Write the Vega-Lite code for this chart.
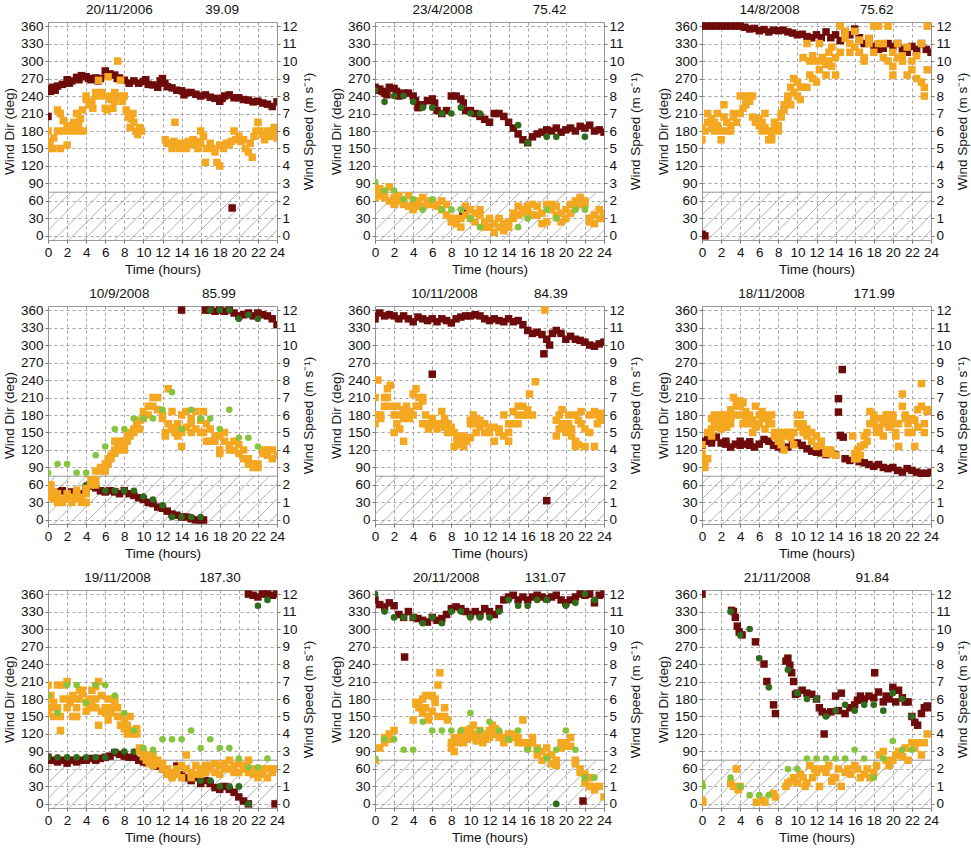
{
  "$schema": "https://vega.github.io/schema/vega-lite/v6.json",
  "background": "white",
  "padding": {"left": 1, "top": 2, "right": 1, "bottom": 2},
  "columns": 3,
  "spacing": {"row": 9, "column": 12},
  "datasets": {
    "hatch": [{"x":-6,"x2":-0.8},{"x":-4.4,"x2":0.8},{"x":-2.8,"x2":2.4},{"x":-1.2,"x2":4},{"x":0.4,"x2":5.6},{"x":2,"x2":7.2},{"x":3.6,"x2":8.8},{"x":5.2,"x2":10.4},{"x":6.8,"x2":12},{"x":8.4,"x2":13.6},{"x":10,"x2":15.2},{"x":11.6,"x2":16.8},{"x":13.2,"x2":18.4},{"x":14.8,"x2":20},{"x":16.4,"x2":21.6},{"x":18,"x2":23.2},{"x":19.6,"x2":24.8},{"x":21.2,"x2":26.4},{"x":22.8,"x2":28}],
    "d1": [{"t":0,"v":252},{"t":0.25,"v":248},{"t":0.5,"v":255},{"t":0.75,"v":250},{"t":1,"v":257},{"t":1.5,"v":260},{"t":2,"v":268},{"t":2.25,"v":262},{"t":2.5,"v":266},{"t":3,"v":272},{"t":3.25,"v":268},{"t":3.5,"v":275},{"t":4,"v":273},{"t":4.25,"v":270},{"t":4.5,"v":268},{"t":5,"v":271},{"t":5.25,"v":266},{"t":5.5,"v":270},{"t":6,"v":283},{"t":6.25,"v":276},{"t":6.5,"v":278},{"t":7,"v":276},{"t":7.25,"v":270},{"t":7.5,"v":271},{"t":8,"v":267},{"t":8.5,"v":262},{"t":9,"v":266},{"t":9.5,"v":262},{"t":10,"v":265},{"t":10.25,"v":268},{"t":10.5,"v":260},{"t":11,"v":259},{"t":11.5,"v":255},{"t":11.75,"v":266},{"t":12,"v":270},{"t":12.25,"v":262},{"t":12.5,"v":256},{"t":13,"v":254},{"t":13.5,"v":250},{"t":14,"v":249},{"t":14.25,"v":242},{"t":14.5,"v":246},{"t":15,"v":246},{"t":15.5,"v":243},{"t":16,"v":240},{"t":16.5,"v":242},{"t":17,"v":238},{"t":17.5,"v":236},{"t":18,"v":231},{"t":18.25,"v":236},{"t":18.5,"v":240},{"t":19,"v":242},{"t":19.5,"v":237},{"t":20,"v":237},{"t":20.5,"v":234},{"t":21,"v":233},{"t":21.5,"v":230},{"t":22,"v":231},{"t":22.5,"v":228},{"t":23,"v":226},{"t":23.5,"v":222},{"t":24,"v":230},{"t":0,"v":205},{"t":19.3,"v":48}],
    "s1": [{"t":0,"v":6.0},{"t":0,"v":5.0},{"t":0.2,"v":5.4},{"t":0.5,"v":5.0},{"t":0.6,"v":5.6},{"t":1,"v":7.2},{"t":1,"v":6.0},{"t":1.3,"v":7.0},{"t":1.3,"v":5.0},{"t":1.6,"v":6.6},{"t":1.7,"v":6.0},{"t":2,"v":6.3},{"t":2,"v":5.2},{"t":2.3,"v":6.3},{"t":2.4,"v":6.0},{"t":2.7,"v":6.5},{"t":2.8,"v":6.1},{"t":3,"v":7.0},{"t":3,"v":6.0},{"t":3.2,"v":6.4},{"t":3.4,"v":6.7},{"t":3.6,"v":7.2},{"t":3.7,"v":6.0},{"t":4,"v":7.8},{"t":4,"v":8.0},{"t":4.3,"v":7.5},{"t":4.6,"v":7.7},{"t":4.7,"v":7.3},{"t":5,"v":8.2},{"t":5,"v":8.0},{"t":5.3,"v":8.9},{"t":5.6,"v":8.2},{"t":5.8,"v":8.0},{"t":6,"v":7.3},{"t":6.2,"v":7.2},{"t":6.3,"v":9.1},{"t":6.5,"v":7.8},{"t":6.6,"v":8.0},{"t":6.8,"v":7.3},{"t":7,"v":7.7},{"t":7,"v":8.2},{"t":7.3,"v":10.0},{"t":7.4,"v":8.0},{"t":7.6,"v":8.9},{"t":7.8,"v":7.7},{"t":8,"v":8.0},{"t":8.2,"v":7.2},{"t":8.4,"v":6.8},{"t":8.6,"v":6.2},{"t":8.7,"v":6.7},{"t":8.9,"v":7.0},{"t":9,"v":6.5},{"t":9.2,"v":6.0},{"t":9.4,"v":5.8},{"t":9.6,"v":6.2},{"t":9.8,"v":6.0},{"t":12.3,"v":5.5},{"t":12.5,"v":5.3},{"t":13.3,"v":6.5},{"t":13,"v":5.0},{"t":13.2,"v":5.4},{"t":13.6,"v":5.2},{"t":13.8,"v":5.0},{"t":14,"v":5.3},{"t":14.2,"v":5.1},{"t":14.5,"v":5.0},{"t":14.7,"v":5.4},{"t":15,"v":5.2},{"t":15.2,"v":5.5},{"t":15.5,"v":5.4},{"t":15.7,"v":5.0},{"t":16,"v":6.0},{"t":16,"v":5.3},{"t":16.3,"v":5.7},{"t":16.5,"v":4.2},{"t":16.6,"v":5.0},{"t":17,"v":5.3},{"t":17.2,"v":5.0},{"t":17.5,"v":4.8},{"t":17.7,"v":4.2},{"t":18,"v":4.0},{"t":18,"v":5.2},{"t":18.4,"v":5.0},{"t":18.7,"v":5.3},{"t":19,"v":5.2},{"t":19.2,"v":5.4},{"t":19.5,"v":6.0},{"t":19.7,"v":5.5},{"t":20,"v":5.7},{"t":20.2,"v":5.4},{"t":20.5,"v":5.5},{"t":20.7,"v":5.0},{"t":21,"v":4.8},{"t":21.2,"v":5.3},{"t":21.4,"v":4.5},{"t":21.6,"v":5.7},{"t":21.8,"v":6.0},{"t":22,"v":6.5},{"t":22.2,"v":6.0},{"t":22.5,"v":5.8},{"t":22.7,"v":5.5},{"t":23,"v":6.0},{"t":23.2,"v":5.7},{"t":23.5,"v":5.8},{"t":23.7,"v":6.2},{"t":24,"v":6.0},{"t":24,"v":5.6}],
    "d2": [{"t":0,"v":255},{"t":0.25,"v":250},{"t":0.5,"v":252},{"t":0.75,"v":248},{"t":1,"v":245},{"t":1.25,"v":242},{"t":1.5,"v":255},{"t":2,"v":253},{"t":2.25,"v":248},{"t":2.5,"v":240},{"t":3,"v":245},{"t":3.5,"v":245},{"t":4,"v":240},{"t":4.25,"v":232},{"t":4.5,"v":220},{"t":5,"v":225},{"t":5.5,"v":232},{"t":6,"v":235},{"t":6.25,"v":228},{"t":6.5,"v":215},{"t":7,"v":210},{"t":7.5,"v":215},{"t":8,"v":240},{"t":8.5,"v":240},{"t":9,"v":235},{"t":9.25,"v":228},{"t":9.5,"v":215},{"t":10,"v":215},{"t":10.5,"v":210},{"t":11,"v":205},{"t":11.5,"v":200},{"t":12,"v":195},{"t":12.5,"v":210},{"t":13,"v":210},{"t":13.5,"v":205},{"t":14,"v":195},{"t":14.5,"v":185},{"t":15,"v":175},{"t":15.5,"v":165},{"t":16,"v":160},{"t":16.5,"v":170},{"t":17,"v":175},{"t":17.5,"v":178},{"t":18,"v":182},{"t":18.5,"v":180},{"t":19,"v":185},{"t":19.5,"v":178},{"t":20,"v":182},{"t":20.5,"v":185},{"t":21,"v":180},{"t":21.5,"v":188},{"t":22,"v":185},{"t":22.5,"v":190},{"t":23,"v":180},{"t":23.5,"v":182},{"t":24,"v":178},{"t":9.2,"v":42}],
    "c2": [{"t":0,"v":250},{"t":1,"v":230},{"t":2,"v":240},{"t":3,"v":240},{"t":4,"v":230},{"t":5,"v":220},{"t":6,"v":220},{"t":7,"v":210},{"t":8,"v":210},{"t":9,"v":220},{"t":10,"v":210},{"t":11,"v":210},{"t":15,"v":190},{"t":16,"v":160},{"t":18,"v":170},{"t":19,"v":170},{"t":22,"v":170}],
    "s2": [{"t":0,"v":2.8},{"t":0,"v":2.5},{"t":0,"v":2.2},{"t":0.5,"v":2.7},{"t":0.5,"v":2.3},{"t":1,"v":2.2},{"t":1,"v":2.5},{"t":1.5,"v":2.8},{"t":1.5,"v":2.0},{"t":2,"v":2.2},{"t":2,"v":1.8},{"t":2.5,"v":2.0},{"t":2.5,"v":2.3},{"t":3,"v":2.0},{"t":3,"v":1.8},{"t":3.5,"v":2.3},{"t":3.5,"v":1.7},{"t":4,"v":1.8},{"t":4,"v":1.5},{"t":4.5,"v":1.7},{"t":4.5,"v":2.0},{"t":5,"v":2.2},{"t":5,"v":1.7},{"t":5.5,"v":2.0},{"t":5.5,"v":1.8},{"t":6,"v":1.8},{"t":6,"v":2.0},{"t":6.5,"v":1.8},{"t":6.5,"v":1.7},{"t":7,"v":2.0},{"t":7,"v":1.5},{"t":7.5,"v":1.8},{"t":7.5,"v":1.2},{"t":8,"v":1.0},{"t":8,"v":0.8},{"t":8.5,"v":1.0},{"t":8.5,"v":0.7},{"t":9,"v":0.5},{"t":9,"v":1.0},{"t":9.5,"v":1.2},{"t":9.5,"v":1.7},{"t":10,"v":1.5},{"t":10,"v":1.0},{"t":10.5,"v":1.3},{"t":10.5,"v":0.8},{"t":11,"v":1.2},{"t":11,"v":1.5},{"t":11.5,"v":0.8},{"t":11.5,"v":0.5},{"t":12,"v":0.5},{"t":12,"v":1.0},{"t":12.5,"v":0.7},{"t":12.5,"v":0.2},{"t":13,"v":1.0},{"t":13,"v":0.5},{"t":13.5,"v":0.7},{"t":13.5,"v":0.3},{"t":14,"v":0.5},{"t":14,"v":0.8},{"t":14.5,"v":1.3},{"t":14.5,"v":1.0},{"t":15,"v":1.7},{"t":15,"v":1.2},{"t":15.5,"v":1.5},{"t":15.5,"v":1.3},{"t":16,"v":1.7},{"t":16,"v":1.3},{"t":16.5,"v":1.8},{"t":16.5,"v":1.2},{"t":17,"v":1.2},{"t":17,"v":1.7},{"t":17.5,"v":1.3},{"t":17.5,"v":0.7},{"t":18,"v":1.8},{"t":18,"v":0.8},{"t":18.5,"v":1.5},{"t":18.5,"v":1.8},{"t":19,"v":1.2},{"t":19,"v":1.7},{"t":19.5,"v":0.8},{"t":19.5,"v":1.3},{"t":20,"v":1.0},{"t":20,"v":1.5},{"t":20.5,"v":1.8},{"t":20.5,"v":1.3},{"t":21,"v":2.0},{"t":21,"v":1.7},{"t":21.5,"v":2.2},{"t":21.5,"v":1.8},{"t":22,"v":2.0},{"t":22,"v":1.8},{"t":22.5,"v":1.0},{"t":22.5,"v":0.8},{"t":23,"v":1.2},{"t":23,"v":0.7},{"t":23.5,"v":1.5},{"t":23.5,"v":1.0},{"t":24,"v":1.3},{"t":24,"v":1.0}],
    "g2": [{"t":0,"v":3.1},{"t":1,"v":2.6},{"t":2,"v":2.6},{"t":3,"v":2.1},{"t":4,"v":2.1},{"t":5,"v":1.5},{"t":6,"v":2.1},{"t":7,"v":1.5},{"t":8,"v":1.5},{"t":9,"v":1.5},{"t":10,"v":1.0},{"t":11,"v":0.5},{"t":15,"v":0.5},{"t":16,"v":1.0},{"t":18,"v":1.5},{"t":19,"v":1.0},{"t":21,"v":1.5},{"t":22,"v":1.5}],
    "d3": [{"t":0,"v":360},{"t":0.5,"v":360},{"t":1,"v":360},{"t":1.5,"v":360},{"t":2,"v":360},{"t":2.5,"v":360},{"t":3,"v":360},{"t":3.5,"v":360},{"t":4,"v":360},{"t":4.5,"v":358},{"t":5,"v":355},{"t":5.5,"v":356},{"t":6,"v":352},{"t":6.5,"v":354},{"t":7,"v":350},{"t":7.5,"v":353},{"t":8,"v":352},{"t":8.5,"v":353},{"t":9,"v":350},{"t":9.5,"v":348},{"t":10,"v":345},{"t":10.5,"v":346},{"t":11,"v":342},{"t":11.5,"v":340},{"t":12,"v":345},{"t":12.5,"v":340},{"t":13,"v":350},{"t":13.5,"v":340},{"t":14,"v":345},{"t":14.5,"v":335},{"t":15,"v":350},{"t":15.5,"v":345},{"t":16,"v":355},{"t":16.5,"v":340},{"t":17,"v":330},{"t":17.5,"v":338},{"t":18,"v":325},{"t":18.5,"v":320},{"t":19,"v":322},{"t":19.5,"v":330},{"t":20,"v":325},{"t":20.5,"v":330},{"t":21,"v":320},{"t":21.5,"v":315},{"t":22,"v":325},{"t":22.5,"v":320},{"t":23,"v":330},{"t":23.5,"v":320},{"t":24,"v":315},{"t":0,"v":3},{"t":0.3,"v":0}],
    "s3": [{"t":0,"v":5.5},{"t":0,"v":6.2},{"t":0.3,"v":6.0},{"t":0.6,"v":7.0},{"t":0.6,"v":6.5},{"t":1,"v":6.7},{"t":1,"v":6.2},{"t":1.3,"v":6.5},{"t":1.3,"v":6.0},{"t":1.6,"v":7.0},{"t":1.6,"v":6.3},{"t":2,"v":6.0},{"t":2,"v":5.5},{"t":2.3,"v":6.8},{"t":2.3,"v":7.5},{"t":2.6,"v":6.5},{"t":2.6,"v":6.0},{"t":3,"v":6.3},{"t":3,"v":6.0},{"t":3.3,"v":6.8},{"t":3.3,"v":7.0},{"t":3.6,"v":6.5},{"t":4,"v":8.0},{"t":4,"v":7.0},{"t":4.3,"v":8.0},{"t":4.3,"v":7.3},{"t":4.6,"v":7.5},{"t":4.6,"v":7.8},{"t":5,"v":7.7},{"t":5,"v":8.0},{"t":5.3,"v":8.0},{"t":5.3,"v":6.8},{"t":5.6,"v":6.5},{"t":6,"v":6.7},{"t":6,"v":6.3},{"t":6.3,"v":6.0},{"t":6.3,"v":6.5},{"t":6.6,"v":6.2},{"t":6.6,"v":7.0},{"t":7,"v":5.5},{"t":7,"v":6.0},{"t":7.3,"v":5.5},{"t":7.3,"v":5.8},{"t":7.6,"v":6.5},{"t":7.6,"v":6.2},{"t":8,"v":6.0},{"t":8,"v":6.3},{"t":8.3,"v":7.0},{"t":8.3,"v":6.8},{"t":8.6,"v":7.2},{"t":8.6,"v":7.5},{"t":9,"v":7.8},{"t":9,"v":8.0},{"t":9.3,"v":7.5},{"t":9.3,"v":8.5},{"t":9.6,"v":8.2},{"t":9.6,"v":9.0},{"t":10,"v":8.8},{"t":10,"v":8.0},{"t":10.3,"v":8.5},{"t":10.3,"v":7.8},{"t":10.6,"v":10.2},{"t":10.6,"v":8.5},{"t":11,"v":11.0},{"t":11,"v":8.5},{"t":11.3,"v":9.2},{"t":11.3,"v":10.0},{"t":11.6,"v":10.3},{"t":11.6,"v":9.0},{"t":12,"v":10.0},{"t":12,"v":8.8},{"t":12.3,"v":11.0},{"t":12.3,"v":9.5},{"t":12.6,"v":10.2},{"t":12.6,"v":10.0},{"t":13,"v":9.8},{"t":13,"v":9.2},{"t":13.3,"v":10.5},{"t":13.3,"v":10.0},{"t":13.6,"v":10.8},{"t":13.6,"v":9.7},{"t":14,"v":9.2},{"t":14,"v":10.2},{"t":14.5,"v":12.0},{"t":14.5,"v":10.5},{"t":15,"v":11.3},{"t":15,"v":11.7},{"t":15.5,"v":11.0},{"t":15.5,"v":10.5},{"t":16,"v":11.7},{"t":16,"v":10.8},{"t":16.5,"v":10.5},{"t":16.5,"v":11.2},{"t":17,"v":10.0},{"t":17,"v":10.2},{"t":17.5,"v":11.0},{"t":17.5,"v":11.3},{"t":18,"v":12.0},{"t":18,"v":10.5},{"t":18.5,"v":12.0},{"t":18.5,"v":11.0},{"t":19,"v":10.2},{"t":19,"v":11.0},{"t":19.5,"v":10.0},{"t":19.5,"v":12.0},{"t":20,"v":9.2},{"t":20,"v":9.7},{"t":20,"v":10.5},{"t":20.5,"v":10.2},{"t":20.5,"v":11.0},{"t":21,"v":10.0},{"t":21,"v":10.3},{"t":21.5,"v":9.2},{"t":21.5,"v":10.8},{"t":22,"v":9.5},{"t":22,"v":10.0},{"t":22.5,"v":10.3},{"t":22.5,"v":9.0},{"t":23,"v":8.8},{"t":23,"v":11.0},{"t":23.3,"v":8.0},{"t":23.3,"v":8.5},{"t":23.6,"v":12.0},{"t":23.6,"v":9.5}],
    "d4": [{"t":0,"v":45},{"t":0.5,"v":45},{"t":1,"v":48},{"t":1.5,"v":50},{"t":2,"v":45},{"t":2.5,"v":48},{"t":3,"v":42},{"t":3.5,"v":45},{"t":4,"v":55},{"t":4.5,"v":58},{"t":5,"v":55},{"t":5.5,"v":50},{"t":6,"v":48},{"t":6.5,"v":50},{"t":7,"v":48},{"t":7.5,"v":45},{"t":8,"v":50},{"t":8.5,"v":45},{"t":9,"v":42},{"t":9.5,"v":38},{"t":10,"v":35},{"t":10.5,"v":30},{"t":11,"v":28},{"t":11.5,"v":22},{"t":12,"v":20},{"t":12.5,"v":15},{"t":13,"v":10},{"t":13.5,"v":8},{"t":14,"v":5},{"t":14.5,"v":5},{"t":15,"v":2},{"t":15.5,"v":0},{"t":16,"v":0},{"t":16.3,"v":0},{"t":14,"v":360},{"t":16.5,"v":360},{"t":17,"v":360},{"t":17.5,"v":358},{"t":18,"v":360},{"t":18.5,"v":358},{"t":19,"v":360},{"t":19.5,"v":355},{"t":20,"v":350},{"t":20.5,"v":352},{"t":21,"v":355},{"t":21.5,"v":350},{"t":22,"v":355},{"t":22.5,"v":352},{"t":23,"v":350},{"t":23.5,"v":345},{"t":24,"v":335}],
    "c4": [{"t":0,"v":40},{"t":4,"v":60},{"t":6,"v":50},{"t":7,"v":50},{"t":8,"v":50},{"t":9,"v":50},{"t":10,"v":40},{"t":11,"v":35},{"t":12,"v":25},{"t":13,"v":5},{"t":14,"v":5},{"t":15,"v":5},{"t":16,"v":5},{"t":17,"v":360},{"t":18,"v":360},{"t":19,"v":360},{"t":20,"v":345},{"t":21,"v":352},{"t":22,"v":345}],
    "s4": [{"t":0,"v":1.8},{"t":0,"v":2.0},{"t":0,"v":1.5},{"t":0.3,"v":1.3},{"t":0.3,"v":2.0},{"t":0.6,"v":1.2},{"t":0.6,"v":1.6},{"t":1,"v":1.2},{"t":1,"v":1.0},{"t":1,"v":1.5},{"t":1.5,"v":1.2},{"t":1.5,"v":1.0},{"t":2,"v":1.2},{"t":2,"v":1.5},{"t":2.5,"v":1.0},{"t":2.5,"v":1.3},{"t":3,"v":1.2},{"t":3,"v":1.5},{"t":3,"v":1.7},{"t":3.5,"v":1.3},{"t":3.5,"v":1.0},{"t":4,"v":1.5},{"t":4,"v":1.8},{"t":4,"v":1.0},{"t":4.5,"v":2.0},{"t":4.5,"v":2.3},{"t":5,"v":2.8},{"t":5,"v":2.3},{"t":5,"v":2.0},{"t":5.5,"v":2.8},{"t":5.5,"v":3.0},{"t":6,"v":3.2},{"t":6,"v":3.0},{"t":6,"v":2.8},{"t":6.3,"v":3.5},{"t":6.3,"v":3.2},{"t":6.6,"v":3.7},{"t":6.6,"v":3.5},{"t":7,"v":4.5},{"t":7,"v":4.0},{"t":7,"v":3.8},{"t":7.3,"v":4.0},{"t":7.3,"v":4.3},{"t":7.6,"v":4.5},{"t":7.6,"v":4.2},{"t":8,"v":4.3},{"t":8,"v":4.5},{"t":8,"v":4.0},{"t":8.3,"v":4.8},{"t":8.3,"v":4.5},{"t":8.6,"v":5.0},{"t":8.6,"v":4.8},{"t":9,"v":5.2},{"t":9,"v":5.0},{"t":9.3,"v":5.3},{"t":9.3,"v":5.5},{"t":9.6,"v":5.7},{"t":9.6,"v":5.2},{"t":10,"v":6.2},{"t":10,"v":5.8},{"t":10.5,"v":6.0},{"t":10.5,"v":6.5},{"t":11,"v":6.5},{"t":11,"v":7.0},{"t":11.5,"v":7.0},{"t":11.5,"v":6.3},{"t":12,"v":6.0},{"t":12,"v":5.8},{"t":12.3,"v":5.0},{"t":12.3,"v":4.8},{"t":12.6,"v":7.5},{"t":12.6,"v":5.5},{"t":13,"v":6.2},{"t":13,"v":5.2},{"t":13.3,"v":5.0},{"t":13.3,"v":5.3},{"t":13.6,"v":5.5},{"t":13.6,"v":4.8},{"t":14,"v":4.2},{"t":14,"v":6.0},{"t":14,"v":5.0},{"t":14.5,"v":6.2},{"t":14.5,"v":5.3},{"t":15,"v":5.8},{"t":15,"v":5.0},{"t":15,"v":5.5},{"t":15.5,"v":5.2},{"t":15.5,"v":6.2},{"t":16,"v":5.7},{"t":16,"v":5.0},{"t":16.3,"v":6.2},{"t":16.3,"v":5.0},{"t":16.6,"v":5.5},{"t":16.6,"v":4.5},{"t":17,"v":4.5},{"t":17,"v":5.2},{"t":17.5,"v":4.8},{"t":17.5,"v":4.5},{"t":18,"v":4.0},{"t":18,"v":3.8},{"t":18,"v":4.8},{"t":18.5,"v":5.0},{"t":18.5,"v":4.5},{"t":19,"v":4.3},{"t":19,"v":4.0},{"t":19.5,"v":4.5},{"t":19.5,"v":4.0},{"t":20,"v":4.3},{"t":20,"v":3.8},{"t":20.5,"v":3.5},{"t":20.5,"v":4.0},{"t":21,"v":3.2},{"t":21,"v":3.5},{"t":21.5,"v":3.0},{"t":21.5,"v":3.2},{"t":22,"v":3.2},{"t":22,"v":3.0},{"t":22.5,"v":3.8},{"t":22.5,"v":4.0},{"t":23,"v":4.0},{"t":23,"v":3.7},{"t":23.5,"v":4.0},{"t":23.5,"v":3.5},{"t":24,"v":3.7}],
    "g4": [{"t":0,"v":2.7},{"t":1,"v":3.2},{"t":2,"v":3.2},{"t":3,"v":2.7},{"t":4,"v":2.7},{"t":5,"v":3.7},{"t":6,"v":4.2},{"t":7,"v":5.2},{"t":8,"v":5.2},{"t":9,"v":5.8},{"t":10,"v":5.8},{"t":11,"v":5.8},{"t":12,"v":6.3},{"t":13,"v":7.3},{"t":14,"v":5.2},{"t":15,"v":6.3},{"t":16,"v":5.8},{"t":17,"v":5.8},{"t":18,"v":5.2},{"t":19,"v":6.3},{"t":20,"v":4.7},{"t":21,"v":4.7},{"t":22,"v":4.2}],
    "d5": [{"t":0,"v":350},{"t":0,"v":345},{"t":0.5,"v":355},{"t":1,"v":350},{"t":1.5,"v":352},{"t":2,"v":350},{"t":2.5,"v":345},{"t":3,"v":350},{"t":3.5,"v":345},{"t":4,"v":340},{"t":4.5,"v":348},{"t":5,"v":345},{"t":5.5,"v":342},{"t":6,"v":345},{"t":6.5,"v":340},{"t":7,"v":345},{"t":7.5,"v":342},{"t":8,"v":338},{"t":8.5,"v":345},{"t":9,"v":348},{"t":9.5,"v":350},{"t":10,"v":350},{"t":10.5,"v":352},{"t":11,"v":350},{"t":11.5,"v":345},{"t":12,"v":342},{"t":12.5,"v":345},{"t":13,"v":342},{"t":13.5,"v":340},{"t":14,"v":345},{"t":14.5,"v":340},{"t":15,"v":342},{"t":15.5,"v":335},{"t":16,"v":325},{"t":16.5,"v":320},{"t":17,"v":322},{"t":17.5,"v":318},{"t":18,"v":310},{"t":18.3,"v":300},{"t":18.6,"v":320},{"t":19,"v":325},{"t":19.5,"v":320},{"t":20,"v":310},{"t":20.5,"v":315},{"t":21,"v":310},{"t":21.5,"v":308},{"t":22,"v":305},{"t":22.5,"v":300},{"t":23,"v":298},{"t":23.5,"v":302},{"t":24,"v":305},{"t":6,"v":250},{"t":17.7,"v":285},{"t":18,"v":33}],
    "s5": [{"t":0,"v":7.0},{"t":0,"v":6.0},{"t":0,"v":5.5},{"t":0.3,"v":8.0},{"t":0.6,"v":5.8},{"t":0.6,"v":6.0},{"t":1,"v":7.0},{"t":1,"v":6.5},{"t":1.3,"v":7.5},{"t":1.3,"v":7.0},{"t":1.6,"v":7.7},{"t":1.6,"v":6.5},{"t":2,"v":5.0},{"t":2,"v":6.0},{"t":2.3,"v":6.5},{"t":2.3,"v":5.5},{"t":2.6,"v":5.2},{"t":2.6,"v":6.0},{"t":3,"v":4.5},{"t":3,"v":6.3},{"t":3,"v":5.8},{"t":3.3,"v":6.5},{"t":3.3,"v":6.0},{"t":3.6,"v":6.2},{"t":3.6,"v":5.8},{"t":4,"v":6.0},{"t":4,"v":7.2},{"t":4.3,"v":6.5},{"t":4.3,"v":7.5},{"t":4.6,"v":7.0},{"t":4.6,"v":6.5},{"t":5,"v":5.5},{"t":5,"v":6.8},{"t":5,"v":7.0},{"t":5.3,"v":6.0},{"t":5.3,"v":5.5},{"t":5.6,"v":5.2},{"t":5.6,"v":5.5},{"t":6,"v":5.8},{"t":6,"v":5.5},{"t":6.5,"v":5.2},{"t":6.5,"v":5.5},{"t":7,"v":5.5},{"t":7,"v":6.2},{"t":7.3,"v":5.8},{"t":7.3,"v":5.3},{"t":7.6,"v":5.0},{"t":7.6,"v":5.5},{"t":8,"v":5.3},{"t":8,"v":5.0},{"t":8.3,"v":4.2},{"t":8.3,"v":5.0},{"t":8.6,"v":4.8},{"t":8.6,"v":4.5},{"t":9,"v":4.3},{"t":9,"v":4.5},{"t":9.3,"v":4.8},{"t":9.3,"v":4.2},{"t":9.6,"v":4.5},{"t":10,"v":4.7},{"t":10,"v":5.5},{"t":10,"v":5.7},{"t":10.3,"v":6.0},{"t":10.3,"v":5.5},{"t":10.6,"v":5.8},{"t":10.6,"v":5.0},{"t":11,"v":5.3},{"t":11,"v":5.7},{"t":11.5,"v":5.5},{"t":11.5,"v":5.0},{"t":12,"v":5.3},{"t":12,"v":5.0},{"t":12.5,"v":4.5},{"t":12.5,"v":5.3},{"t":13,"v":5.0},{"t":13,"v":5.2},{"t":13.5,"v":4.8},{"t":13.5,"v":6.0},{"t":14,"v":4.5},{"t":14,"v":5.5},{"t":14,"v":5.0},{"t":14.5,"v":6.2},{"t":14.5,"v":5.5},{"t":15,"v":6.0},{"t":15,"v":5.5},{"t":15,"v":6.5},{"t":15.5,"v":6.5},{"t":15.5,"v":6.0},{"t":16,"v":6.3},{"t":16,"v":6.0},{"t":16.2,"v":7.2},{"t":16.5,"v":6.0},{"t":16.8,"v":7.9},{"t":17.8,"v":12.0},{"t":19,"v":4.8},{"t":19,"v":5.7},{"t":19.3,"v":6.0},{"t":19.3,"v":5.2},{"t":19.6,"v":6.3},{"t":19.6,"v":5.5},{"t":20,"v":5.0},{"t":20,"v":5.3},{"t":20.3,"v":6.0},{"t":20.3,"v":5.5},{"t":20.6,"v":5.2},{"t":20.6,"v":4.8},{"t":21,"v":4.2},{"t":21,"v":4.5},{"t":21,"v":6.0},{"t":21.3,"v":5.7},{"t":21.3,"v":4.3},{"t":21.6,"v":5.5},{"t":21.6,"v":6.2},{"t":22,"v":4.2},{"t":22,"v":5.2},{"t":22.5,"v":5.0},{"t":22.5,"v":6.0},{"t":23,"v":4.2},{"t":23,"v":6.2},{"t":23.3,"v":5.5},{"t":23.3,"v":6.0},{"t":23.6,"v":5.7},{"t":23.6,"v":6.1},{"t":24,"v":5.8}],
    "d6": [{"t":0,"v":128},{"t":0.3,"v":135},{"t":0.6,"v":140},{"t":1,"v":138},{"t":1,"v":132},{"t":1.5,"v":142},{"t":2,"v":132},{"t":2.5,"v":130},{"t":2.5,"v":135},{"t":3,"v":125},{"t":3.5,"v":130},{"t":4,"v":128},{"t":4,"v":135},{"t":4.5,"v":130},{"t":5,"v":128},{"t":5,"v":134},{"t":5.5,"v":125},{"t":6,"v":130},{"t":6.5,"v":138},{"t":7,"v":135},{"t":7.5,"v":128},{"t":8,"v":125},{"t":8,"v":130},{"t":8.5,"v":122},{"t":9,"v":125},{"t":9.5,"v":130},{"t":10,"v":132},{"t":10.5,"v":128},{"t":11,"v":122},{"t":11.5,"v":118},{"t":12,"v":116},{"t":12,"v":120},{"t":12.5,"v":115},{"t":13,"v":112},{"t":13.5,"v":115},{"t":14,"v":112},{"t":14.3,"v":208},{"t":14.3,"v":185},{"t":14.5,"v":145},{"t":14.7,"v":258},{"t":14.8,"v":142},{"t":15,"v":105},{"t":15.5,"v":102},{"t":16,"v":105},{"t":16.5,"v":100},{"t":17,"v":98},{"t":17.5,"v":95},{"t":18,"v":92},{"t":18.5,"v":95},{"t":19,"v":90},{"t":19.5,"v":88},{"t":20,"v":90},{"t":20.5,"v":85},{"t":21,"v":82},{"t":21.5,"v":88},{"t":22,"v":85},{"t":22.5,"v":82},{"t":23,"v":80},{"t":23.5,"v":80},{"t":24,"v":82}],
    "s6": [{"t":0,"v":4.3},{"t":0,"v":3.5},{"t":0,"v":3.8},{"t":0.3,"v":3.0},{"t":0.3,"v":3.3},{"t":0.6,"v":3.5},{"t":0.6,"v":5.0},{"t":1,"v":5.8},{"t":1,"v":4.8},{"t":1,"v":5.2},{"t":1.3,"v":6.0},{"t":1.3,"v":5.5},{"t":1.6,"v":5.3},{"t":1.6,"v":5.8},{"t":2,"v":5.2},{"t":2,"v":5.5},{"t":2,"v":6.0},{"t":2.3,"v":5.5},{"t":2.3,"v":5.8},{"t":2.6,"v":5.3},{"t":2.6,"v":6.0},{"t":3,"v":5.8},{"t":3,"v":6.3},{"t":3,"v":5.5},{"t":3.3,"v":7.0},{"t":3.3,"v":6.0},{"t":3.6,"v":6.5},{"t":3.6,"v":6.8},{"t":4,"v":6.0},{"t":4,"v":6.5},{"t":4,"v":6.8},{"t":4.3,"v":5.5},{"t":4.3,"v":6.7},{"t":4.6,"v":6.2},{"t":4.6,"v":5.8},{"t":5,"v":5.5},{"t":5,"v":5.8},{"t":5,"v":6.0},{"t":5.3,"v":5.0},{"t":5.3,"v":5.7},{"t":5.6,"v":6.5},{"t":5.6,"v":5.3},{"t":6,"v":6.0},{"t":6,"v":5.5},{"t":6.3,"v":5.8},{"t":6.3,"v":6.2},{"t":6.6,"v":5.2},{"t":6.6,"v":6.0},{"t":7,"v":5.5},{"t":7,"v":5.8},{"t":7.3,"v":6.0},{"t":7.3,"v":5.5},{"t":7.6,"v":5.0},{"t":7.6,"v":4.8},{"t":8,"v":4.5},{"t":8,"v":5.0},{"t":8.3,"v":4.3},{"t":8.3,"v":4.7},{"t":8.6,"v":4.0},{"t":8.6,"v":5.0},{"t":9,"v":4.8},{"t":9,"v":5.0},{"t":9.3,"v":5.0},{"t":9.3,"v":4.7},{"t":9.6,"v":4.3},{"t":9.6,"v":5.0},{"t":10,"v":5.5},{"t":10,"v":6.0},{"t":10.3,"v":6.0},{"t":10.3,"v":5.3},{"t":10.6,"v":5.0},{"t":10.6,"v":5.5},{"t":11,"v":5.2},{"t":11,"v":4.8},{"t":11.5,"v":5.0},{"t":11.5,"v":4.5},{"t":12,"v":4.2},{"t":12,"v":4.8},{"t":12.5,"v":4.5},{"t":12.5,"v":4.3},{"t":13,"v":4.0},{"t":13,"v":3.8},{"t":13.5,"v":3.8},{"t":13.5,"v":4.0},{"t":14,"v":3.7},{"t":15.8,"v":4.8},{"t":16,"v":3.5},{"t":16,"v":3.8},{"t":16.3,"v":3.5},{"t":16.3,"v":4.0},{"t":16.6,"v":3.7},{"t":16.6,"v":4.2},{"t":17,"v":4.3},{"t":17,"v":4.8},{"t":17.3,"v":5.0},{"t":17.3,"v":4.5},{"t":17.6,"v":6.2},{"t":17.6,"v":5.5},{"t":18,"v":5.5},{"t":18,"v":5.8},{"t":18,"v":6.0},{"t":18.3,"v":5.0},{"t":18.3,"v":5.3},{"t":18.6,"v":5.8},{"t":18.6,"v":5.2},{"t":19,"v":4.8},{"t":19,"v":5.5},{"t":19.3,"v":5.7},{"t":19.3,"v":6.0},{"t":19.6,"v":5.3},{"t":19.6,"v":6.0},{"t":20,"v":5.8},{"t":20,"v":6.0},{"t":20,"v":5.5},{"t":20.3,"v":4.8},{"t":20.3,"v":5.0},{"t":20.6,"v":4.2},{"t":20.6,"v":5.5},{"t":21,"v":7.2},{"t":21,"v":6.5},{"t":21.3,"v":5.8},{"t":21.3,"v":6.0},{"t":21.6,"v":5.5},{"t":21.6,"v":5.0},{"t":22,"v":5.0},{"t":22,"v":5.8},{"t":22.3,"v":4.2},{"t":22.3,"v":5.7},{"t":22.6,"v":5.3},{"t":22.6,"v":6.3},{"t":23,"v":6.5},{"t":23,"v":7.8},{"t":23.3,"v":5.5},{"t":23.3,"v":5.0},{"t":23.6,"v":6.3},{"t":23.6,"v":6.2}],
    "d7": [{"t":0,"v":80},{"t":0,"v":75},{"t":0.5,"v":75},{"t":1,"v":72},{"t":1.5,"v":75},{"t":2,"v":70},{"t":2.5,"v":75},{"t":3,"v":72},{"t":3.5,"v":75},{"t":4,"v":75},{"t":4.5,"v":78},{"t":5,"v":75},{"t":5.5,"v":78},{"t":6,"v":80},{"t":6.5,"v":82},{"t":7,"v":88},{"t":7.5,"v":85},{"t":8,"v":82},{"t":8.5,"v":80},{"t":9,"v":80},{"t":9.5,"v":75},{"t":10,"v":72},{"t":10.5,"v":70},{"t":11,"v":68},{"t":11.5,"v":65},{"t":12,"v":60},{"t":12.5,"v":55},{"t":13,"v":50},{"t":13.5,"v":65},{"t":14,"v":50},{"t":14.5,"v":45},{"t":15,"v":40},{"t":15.5,"v":45},{"t":16,"v":35},{"t":16.5,"v":40},{"t":17,"v":35},{"t":17.5,"v":28},{"t":18,"v":25},{"t":18.5,"v":30},{"t":19,"v":25},{"t":19.5,"v":20},{"t":20,"v":12},{"t":20.5,"v":5},{"t":21,"v":0},{"t":21,"v":360},{"t":21.5,"v":358},{"t":22,"v":355},{"t":22.5,"v":360},{"t":23,"v":360},{"t":23.5,"v":358},{"t":24,"v":360},{"t":23.8,"v":0}],
    "c7": [{"t":0,"v":80},{"t":1,"v":80},{"t":2,"v":80},{"t":3,"v":80},{"t":4,"v":80},{"t":5,"v":80},{"t":6,"v":80},{"t":7,"v":90},{"t":8,"v":90},{"t":9,"v":90},{"t":14,"v":65},{"t":16,"v":40},{"t":17,"v":40},{"t":18,"v":30},{"t":19,"v":30},{"t":20,"v":30},{"t":21,"v":0},{"t":22,"v":340},{"t":23,"v":350}],
    "s7": [{"t":0,"v":6.8},{"t":0,"v":6.0},{"t":0,"v":5.2},{"t":0.3,"v":6.2},{"t":0.3,"v":5.5},{"t":0.6,"v":5.8},{"t":0.6,"v":5.0},{"t":1,"v":6.8},{"t":1,"v":5.5},{"t":1.3,"v":4.2},{"t":1.3,"v":5.0},{"t":1.6,"v":6.8},{"t":1.6,"v":6.0},{"t":2,"v":7.0},{"t":2,"v":5.5},{"t":2.3,"v":6.0},{"t":2.3,"v":5.8},{"t":2.6,"v":5.0},{"t":2.6,"v":6.2},{"t":3,"v":6.0},{"t":3,"v":5.0},{"t":3,"v":5.5},{"t":3.3,"v":6.5},{"t":3.3,"v":6.0},{"t":3.6,"v":6.5},{"t":3.6,"v":6.3},{"t":4,"v":5.3},{"t":4,"v":5.8},{"t":4.3,"v":5.5},{"t":4.3,"v":6.0},{"t":4.6,"v":6.5},{"t":4.6,"v":5.8},{"t":5,"v":6.0},{"t":5,"v":5.5},{"t":5,"v":6.7},{"t":5.3,"v":7.0},{"t":5.3,"v":4.5},{"t":5.6,"v":6.2},{"t":5.6,"v":5.3},{"t":6,"v":5.2},{"t":6,"v":5.5},{"t":6.3,"v":6.0},{"t":6.3,"v":4.8},{"t":6.6,"v":5.5},{"t":6.6,"v":5.2},{"t":7,"v":5.7},{"t":7,"v":6.0},{"t":7.3,"v":5.0},{"t":7.3,"v":5.5},{"t":7.6,"v":4.5},{"t":7.6,"v":5.0},{"t":8,"v":4.3},{"t":8,"v":4.8},{"t":8.3,"v":4.0},{"t":8.3,"v":4.5},{"t":8.6,"v":5.0},{"t":8.6,"v":4.2},{"t":9,"v":4.0},{"t":9,"v":4.2},{"t":9.3,"v":4.0},{"t":9.3,"v":4.3},{"t":9.6,"v":3.2},{"t":9.6,"v":3.0},{"t":10,"v":2.7},{"t":10,"v":3.0},{"t":10.3,"v":2.5},{"t":10.3,"v":2.8},{"t":10.6,"v":2.7},{"t":10.6,"v":2.3},{"t":11,"v":2.5},{"t":11,"v":2.2},{"t":11,"v":2.8},{"t":11.5,"v":2.3},{"t":11.5,"v":2.5},{"t":12,"v":2.0},{"t":12,"v":2.3},{"t":12.5,"v":1.7},{"t":12.5,"v":2.0},{"t":13,"v":1.8},{"t":13,"v":1.5},{"t":13.5,"v":2.0},{"t":13.5,"v":1.7},{"t":14,"v":2.2},{"t":14,"v":1.5},{"t":14.5,"v":2.8},{"t":14.5,"v":2.0},{"t":15,"v":1.8},{"t":15,"v":1.5},{"t":15.5,"v":2.2},{"t":15.5,"v":1.7},{"t":16,"v":1.7},{"t":16,"v":2.0},{"t":16.5,"v":2.2},{"t":16.5,"v":1.8},{"t":17,"v":2.0},{"t":17,"v":2.2},{"t":17.5,"v":1.8},{"t":17.5,"v":2.3},{"t":18,"v":2.2},{"t":18,"v":1.7},{"t":18.5,"v":2.0},{"t":18.5,"v":2.3},{"t":19,"v":2.5},{"t":19,"v":2.0},{"t":19.5,"v":2.2},{"t":19.5,"v":1.8},{"t":20,"v":1.8},{"t":20,"v":2.3},{"t":20.5,"v":2.0},{"t":20.5,"v":2.2},{"t":21,"v":2.5},{"t":21,"v":1.8},{"t":21.5,"v":2.0},{"t":21.5,"v":1.7},{"t":22,"v":1.8},{"t":22,"v":1.5},{"t":22.5,"v":2.0},{"t":22.5,"v":1.7},{"t":23,"v":1.5},{"t":23,"v":2.0},{"t":23.5,"v":2.0},{"t":23.5,"v":1.8},{"t":24,"v":2.0}],
    "g7": [{"t":0,"v":6.2},{"t":1,"v":5.2},{"t":2,"v":6.8},{"t":3,"v":6.8},{"t":4,"v":5.8},{"t":5,"v":6.8},{"t":6,"v":6.8},{"t":7,"v":6.2},{"t":8,"v":5.2},{"t":9,"v":4.2},{"t":10,"v":3.2},{"t":11,"v":3.1},{"t":12,"v":3.7},{"t":13,"v":3.7},{"t":14,"v":3.7},{"t":15,"v":4.2},{"t":16,"v":3.2},{"t":17,"v":3.7},{"t":18,"v":3.2},{"t":19,"v":3.2},{"t":20,"v":2.6},{"t":21,"v":2.1},{"t":22,"v":2.1},{"t":23,"v":2.6}],
    "d8": [{"t":0,"v":350},{"t":0.5,"v":342},{"t":1,"v":338},{"t":1.5,"v":345},{"t":2,"v":340},{"t":2.5,"v":325},{"t":3,"v":320},{"t":3.5,"v":330},{"t":4,"v":320},{"t":4.5,"v":318},{"t":5,"v":315},{"t":5.5,"v":312},{"t":6,"v":320},{"t":6.5,"v":315},{"t":7,"v":318},{"t":7.5,"v":325},{"t":8,"v":335},{"t":8.5,"v":338},{"t":9,"v":335},{"t":9.5,"v":330},{"t":10,"v":325},{"t":10.5,"v":330},{"t":11,"v":325},{"t":11.5,"v":335},{"t":12,"v":330},{"t":12.5,"v":325},{"t":13,"v":335},{"t":13.5,"v":350},{"t":14,"v":355},{"t":14.5,"v":358},{"t":15,"v":350},{"t":15.5,"v":355},{"t":16,"v":350},{"t":16.5,"v":355},{"t":17,"v":358},{"t":17.5,"v":355},{"t":18,"v":352},{"t":18.5,"v":355},{"t":19,"v":358},{"t":19.5,"v":350},{"t":20,"v":345},{"t":20.5,"v":350},{"t":21,"v":355},{"t":21.5,"v":360},{"t":22,"v":358},{"t":22.5,"v":360},{"t":23,"v":345},{"t":23.5,"v":358},{"t":24,"v":360},{"t":3.1,"v":252},{"t":21.8,"v":5}],
    "c8": [{"t":0,"v":360},{"t":1,"v":330},{"t":2,"v":320},{"t":3,"v":320},{"t":4,"v":320},{"t":5,"v":310},{"t":6,"v":320},{"t":7,"v":310},{"t":8,"v":330},{"t":9,"v":330},{"t":10,"v":320},{"t":11,"v":320},{"t":12,"v":320},{"t":13,"v":330},{"t":14,"v":350},{"t":15,"v":340},{"t":16,"v":340},{"t":17,"v":350},{"t":18,"v":350},{"t":19,"v":0},{"t":20,"v":340},{"t":21,"v":345},{"t":22,"v":360},{"t":23,"v":350}],
    "s8": [{"t":0,"v":2.5},{"t":0.5,"v":3.2},{"t":1,"v":3.8},{"t":1,"v":3.5},{"t":1.5,"v":4.0},{"t":1.5,"v":3.7},{"t":2,"v":4.2},{"t":4,"v":4.8},{"t":4.3,"v":5.8},{"t":4.3,"v":5.7},{"t":4.6,"v":5.8},{"t":4.6,"v":5.5},{"t":5,"v":5.2},{"t":5,"v":6.0},{"t":5.3,"v":6.2},{"t":5.3,"v":5.5},{"t":5.6,"v":5.0},{"t":5.6,"v":4.8},{"t":6,"v":5.3},{"t":6,"v":6.2},{"t":6.3,"v":5.8},{"t":6.3,"v":6.0},{"t":6.6,"v":6.8},{"t":6.6,"v":5.0},{"t":6.8,"v":7.5},{"t":7.3,"v":5.5},{"t":7.3,"v":5.0},{"t":7.6,"v":4.8},{"t":8,"v":3.2},{"t":8,"v":3.5},{"t":8.3,"v":3.8},{"t":8.3,"v":3.0},{"t":8.6,"v":3.5},{"t":9,"v":4.0},{"t":9,"v":3.8},{"t":9.3,"v":3.5},{"t":9.3,"v":4.2},{"t":9.6,"v":4.0},{"t":9.6,"v":3.7},{"t":10,"v":4.3},{"t":10,"v":4.0},{"t":10.3,"v":4.5},{"t":10.3,"v":3.8},{"t":10.6,"v":4.0},{"t":10.6,"v":3.6},{"t":11,"v":3.8},{"t":11,"v":4.2},{"t":11.3,"v":3.5},{"t":11.3,"v":3.8},{"t":11.6,"v":4.0},{"t":11.6,"v":3.7},{"t":12,"v":4.2},{"t":12,"v":3.8},{"t":12.3,"v":4.5},{"t":12.3,"v":4.0},{"t":12.6,"v":4.3},{"t":12.6,"v":4.0},{"t":13,"v":3.8},{"t":13,"v":4.0},{"t":13.5,"v":3.5},{"t":13.5,"v":3.8},{"t":14,"v":4.0},{"t":14,"v":3.7},{"t":14.5,"v":3.8},{"t":14.5,"v":4.0},{"t":15,"v":3.5},{"t":15,"v":3.8},{"t":15.5,"v":4.8},{"t":15.5,"v":3.5},{"t":16,"v":3.2},{"t":16,"v":3.5},{"t":16.5,"v":3.8},{"t":16.5,"v":3.5},{"t":17,"v":3.2},{"t":17,"v":2.8},{"t":17.5,"v":3.0},{"t":17.5,"v":2.5},{"t":18,"v":3.2},{"t":18,"v":2.7},{"t":18.5,"v":2.8},{"t":18.5,"v":2.3},{"t":19,"v":2.2},{"t":19,"v":2.5},{"t":19.5,"v":3.2},{"t":19.5,"v":3.5},{"t":20,"v":3.5},{"t":20,"v":3.3},{"t":20.5,"v":3.8},{"t":20.5,"v":3.3},{"t":21,"v":2.5},{"t":21,"v":2.3},{"t":21.5,"v":2.0},{"t":21.5,"v":1.8},{"t":22,"v":1.7},{"t":22,"v":1.2},{"t":22.5,"v":1.5},{"t":22.5,"v":1.0},{"t":23,"v":1.0},{"t":23,"v":0.8},{"t":23.5,"v":1.0},{"t":24,"v":0.4}],
    "g8": [{"t":0,"v":2.6},{"t":1,"v":3.7},{"t":2,"v":3.7},{"t":3,"v":3.1},{"t":4,"v":3.1},{"t":5,"v":4.7},{"t":6,"v":4.2},{"t":7,"v":4.2},{"t":8,"v":4.2},{"t":9,"v":4.2},{"t":10,"v":5.2},{"t":11,"v":4.2},{"t":12,"v":4.7},{"t":13,"v":4.2},{"t":14,"v":3.7},{"t":15,"v":4.2},{"t":16,"v":3.1},{"t":17,"v":3.1},{"t":18,"v":2.6},{"t":19,"v":3.1},{"t":20,"v":4.2},{"t":21,"v":3.1},{"t":22,"v":1.5},{"t":23,"v":1.5}],
    "d9": [{"t":0,"v":360},{"t":3.1,"v":332},{"t":3.3,"v":330},{"t":3.5,"v":320},{"t":3.7,"v":305},{"t":3.9,"v":295},{"t":4.2,"v":290},{"t":5.6,"v":278},{"t":6.5,"v":240},{"t":6.8,"v":210},{"t":7.5,"v":170},{"t":7.7,"v":155},{"t":8.8,"v":245},{"t":9,"v":250},{"t":9.2,"v":238},{"t":9.4,"v":225},{"t":9.6,"v":210},{"t":9.8,"v":188},{"t":10,"v":190},{"t":10.5,"v":195},{"t":11,"v":190},{"t":11.5,"v":188},{"t":12,"v":180},{"t":12.3,"v":165},{"t":12.6,"v":158},{"t":12.8,"v":120},{"t":13,"v":155},{"t":13.5,"v":158},{"t":14,"v":185},{"t":14.3,"v":160},{"t":14.6,"v":190},{"t":15,"v":155},{"t":15.5,"v":165},{"t":16,"v":170},{"t":16.3,"v":178},{"t":16.6,"v":185},{"t":17,"v":180},{"t":17.5,"v":185},{"t":18,"v":182},{"t":18.1,"v":225},{"t":18.5,"v":192},{"t":19,"v":175},{"t":19.3,"v":185},{"t":19.6,"v":180},{"t":20,"v":200},{"t":20.3,"v":175},{"t":20.6,"v":195},{"t":21,"v":182},{"t":21.3,"v":175},{"t":21.6,"v":175},{"t":22,"v":150},{"t":22.3,"v":140},{"t":22.6,"v":135},{"t":23,"v":155},{"t":23.3,"v":165},{"t":23.6,"v":168},{"t":24,"v":165}],
    "c9": [{"t":3,"v":330},{"t":4,"v":290},{"t":5,"v":300},{"t":6,"v":250},{"t":7,"v":200},{"t":9,"v":230},{"t":10,"v":190},{"t":11,"v":180},{"t":12,"v":180},{"t":13,"v":150},{"t":14,"v":160},{"t":15,"v":170},{"t":16,"v":160},{"t":17,"v":170},{"t":18,"v":170},{"t":19,"v":160},{"t":20,"v":190},{"t":21,"v":180},{"t":22,"v":150}],
    "s9": [{"t":0,"v":0.2},{"t":0.1,"v":0.1},{"t":3,"v":1.2},{"t":3.3,"v":1.0},{"t":3.6,"v":2.0},{"t":3.8,"v":0.8},{"t":4,"v":1.0},{"t":5.7,"v":0.1},{"t":6.3,"v":0.2},{"t":6.6,"v":0.1},{"t":7.5,"v":0.6},{"t":7.7,"v":0.4},{"t":8.8,"v":1.0},{"t":9,"v":1.2},{"t":9.3,"v":1.3},{"t":9.6,"v":1.5},{"t":10,"v":1.2},{"t":10.3,"v":1.7},{"t":10.6,"v":1.5},{"t":10.8,"v":1.0},{"t":11,"v":1.2},{"t":11.3,"v":2.2},{"t":11.6,"v":1.5},{"t":11.8,"v":2.0},{"t":12,"v":1.8},{"t":12.3,"v":1.0},{"t":12.6,"v":2.0},{"t":13,"v":1.8},{"t":13.3,"v":2.2},{"t":13.6,"v":1.3},{"t":13.8,"v":1.5},{"t":14,"v":1.5},{"t":14.3,"v":2.0},{"t":14.6,"v":1.0},{"t":15,"v":1.8},{"t":15.3,"v":2.0},{"t":15.6,"v":1.7},{"t":16,"v":2.2},{"t":16.3,"v":2.0},{"t":16.6,"v":1.5},{"t":17,"v":1.7},{"t":17.3,"v":2.0},{"t":17.6,"v":1.5},{"t":18,"v":1.8},{"t":18.3,"v":2.2},{"t":18.6,"v":2.8},{"t":19,"v":3.0},{"t":19.3,"v":2.5},{"t":19.6,"v":2.2},{"t":20,"v":2.5},{"t":20.3,"v":2.8},{"t":20.6,"v":3.0},{"t":20.8,"v":2.8},{"t":21,"v":2.7},{"t":21.3,"v":3.2},{"t":21.6,"v":2.5},{"t":22,"v":3.5},{"t":22.3,"v":3.2},{"t":22.6,"v":3.5},{"t":23,"v":2.8},{"t":23.3,"v":3.5},{"t":23.6,"v":4.0}],
    "g9": [{"t":0,"v":1.2},{"t":0.1,"v":1.0},{"t":3,"v":1.5},{"t":4,"v":1.0},{"t":5,"v":0.5},{"t":6,"v":0.5},{"t":7,"v":0.5},{"t":9,"v":2.0},{"t":10,"v":2.0},{"t":11,"v":2.6},{"t":12,"v":2.6},{"t":13,"v":2.6},{"t":14,"v":2.6},{"t":15,"v":2.6},{"t":16,"v":3.1},{"t":17,"v":2.6},{"t":18,"v":1.5},{"t":19,"v":2.6},{"t":20,"v":3.6},{"t":21,"v":3.1},{"t":22,"v":3.1}]
  },
  "concat": [
    {
      "title": "20/11/2006\u00a0\u00a0\u00a0\u00a0\u00a0\u00a0\u00a0\u00a0\u00a0\u00a0\u00a0\u00a0\u00a0\u00a039.09",
      "width": 229, "height": 218,
      "layer": [
        {"layer": [
          {"data": {"name": "hatch"}, "mark": {"type": "rule", "clip": true, "color": "#a9a9a9", "strokeWidth": 0.9},
           "encoding": {"x": {"field": "x", "type": "quantitative", "scale": {"domain": [0, 24], "nice": false}, "axis": {"values": [0,2,4,6,8,10,12,14,16,18,20,22,24], "title": "Time (hours)"}}, "x2": {"field": "x2"}, "y": {"datum": -10, "type": "quantitative", "scale": {"domain": [-7, 367], "nice": false, "zero": false}, "axis": {"values": [0,30,60,90,120,150,180,210,240,270,300,330,360], "title": "Wind Dir (deg)"}}, "y2": {"datum": 75}}},
          {"data": {"values": [{"v": 75}]}, "mark": {"type": "rule", "color": "#9a9a9a"},
           "encoding": {"y": {"field": "v", "type": "quantitative", "axis": {"values": [0,30,60,90,120,150,180,210,240,270,300,330,360], "title": "Wind Dir (deg)"}}}},
          {"data": {"name": "d1"}, "mark": {"type": "square", "filled": true, "size": 56, "color": "#6e0b0b", "opacity": 1, "clip": true},
           "encoding": {"x": {"field": "t", "type": "quantitative", "axis": {"values": [0,2,4,6,8,10,12,14,16,18,20,22,24], "title": "Time (hours)"}}, "y": {"field": "v", "type": "quantitative", "axis": {"values": [0,30,60,90,120,150,180,210,240,270,300,330,360], "title": "Wind Dir (deg)"}}}}
        ]},
        {"layer": [
          {"data": {"name": "s1"}, "mark": {"type": "square", "filled": true, "size": 56, "color": "#f4a720", "opacity": 1, "clip": true},
           "encoding": {"x": {"field": "t", "type": "quantitative", "axis": {"values": [0,2,4,6,8,10,12,14,16,18,20,22,24], "title": "Time (hours)"}}, "y": {"field": "v", "type": "quantitative", "scale": {"domain": [-0.2333, 12.2333], "nice": false, "zero": false}, "axis": {"orient": "right", "values": [0,1,2,3,4,5,6,7,8,9,10,11,12], "title": "Wind Speed (m s⁻¹)", "grid": false, "titleAngle": 270, "titleBaseline": "top"}}}}
        ]}
      ],
      "resolve": {"scale": {"y": "independent"}}
    },
    {
      "title": "23/4/2008\u00a0\u00a0\u00a0\u00a0\u00a0\u00a0\u00a0\u00a0\u00a0\u00a0\u00a0\u00a0\u00a0\u00a0\u00a0\u00a075.42",
      "width": 229, "height": 218,
      "layer": [
        {"layer": [
          {"data": {"name": "hatch"}, "mark": {"type": "rule", "clip": true, "color": "#a9a9a9", "strokeWidth": 0.9},
           "encoding": {"x": {"field": "x", "type": "quantitative", "scale": {"domain": [0, 24], "nice": false}, "axis": {"values": [0,2,4,6,8,10,12,14,16,18,20,22,24], "title": "Time (hours)"}}, "x2": {"field": "x2"}, "y": {"datum": -10, "type": "quantitative", "scale": {"domain": [-7, 367], "nice": false, "zero": false}, "axis": {"values": [0,30,60,90,120,150,180,210,240,270,300,330,360], "title": "Wind Dir (deg)"}}, "y2": {"datum": 75}}},
          {"data": {"values": [{"v": 75}]}, "mark": {"type": "rule", "color": "#9a9a9a"},
           "encoding": {"y": {"field": "v", "type": "quantitative", "axis": {"values": [0,30,60,90,120,150,180,210,240,270,300,330,360], "title": "Wind Dir (deg)"}}}},
          {"data": {"name": "d2"}, "mark": {"type": "square", "filled": true, "size": 56, "color": "#6e0b0b", "opacity": 1, "clip": true},
           "encoding": {"x": {"field": "t", "type": "quantitative", "axis": {"values": [0,2,4,6,8,10,12,14,16,18,20,22,24], "title": "Time (hours)"}}, "y": {"field": "v", "type": "quantitative", "axis": {"values": [0,30,60,90,120,150,180,210,240,270,300,330,360], "title": "Wind Dir (deg)"}}}},
          {"data": {"name": "c2"}, "mark": {"type": "circle", "size": 44, "color": "#2e6b1c", "opacity": 1, "clip": true},
           "encoding": {"x": {"field": "t", "type": "quantitative", "axis": {"values": [0,2,4,6,8,10,12,14,16,18,20,22,24], "title": "Time (hours)"}}, "y": {"field": "v", "type": "quantitative", "axis": {"values": [0,30,60,90,120,150,180,210,240,270,300,330,360], "title": "Wind Dir (deg)"}}}}
        ]},
        {"layer": [
          {"data": {"name": "s2"}, "mark": {"type": "square", "filled": true, "size": 56, "color": "#f4a720", "opacity": 1, "clip": true},
           "encoding": {"x": {"field": "t", "type": "quantitative", "axis": {"values": [0,2,4,6,8,10,12,14,16,18,20,22,24], "title": "Time (hours)"}}, "y": {"field": "v", "type": "quantitative", "scale": {"domain": [-0.2333, 12.2333], "nice": false, "zero": false}, "axis": {"orient": "right", "values": [0,1,2,3,4,5,6,7,8,9,10,11,12], "title": "Wind Speed (m s⁻¹)", "grid": false, "titleAngle": 270, "titleBaseline": "top"}}}},
          {"data": {"name": "g2"}, "mark": {"type": "circle", "size": 44, "color": "#86c43e", "opacity": 1, "clip": true},
           "encoding": {"x": {"field": "t", "type": "quantitative", "axis": {"values": [0,2,4,6,8,10,12,14,16,18,20,22,24], "title": "Time (hours)"}}, "y": {"field": "v", "type": "quantitative", "axis": {"orient": "right", "values": [0,1,2,3,4,5,6,7,8,9,10,11,12], "title": "Wind Speed (m s⁻¹)", "grid": false, "titleAngle": 270, "titleBaseline": "top"}}}}
        ]}
      ],
      "resolve": {"scale": {"y": "independent"}}
    },
    {
      "title": "14/8/2008\u00a0\u00a0\u00a0\u00a0\u00a0\u00a0\u00a0\u00a0\u00a0\u00a0\u00a0\u00a0\u00a0\u00a0\u00a0\u00a075.62",
      "width": 229, "height": 218,
      "layer": [
        {"layer": [
          {"data": {"name": "hatch"}, "mark": {"type": "rule", "clip": true, "color": "#a9a9a9", "strokeWidth": 0.9},
           "encoding": {"x": {"field": "x", "type": "quantitative", "scale": {"domain": [0, 24], "nice": false}, "axis": {"values": [0,2,4,6,8,10,12,14,16,18,20,22,24], "title": "Time (hours)"}}, "x2": {"field": "x2"}, "y": {"datum": -10, "type": "quantitative", "scale": {"domain": [-7, 367], "nice": false, "zero": false}, "axis": {"values": [0,30,60,90,120,150,180,210,240,270,300,330,360], "title": "Wind Dir (deg)"}}, "y2": {"datum": 75}}},
          {"data": {"values": [{"v": 75}]}, "mark": {"type": "rule", "color": "#9a9a9a"},
           "encoding": {"y": {"field": "v", "type": "quantitative", "axis": {"values": [0,30,60,90,120,150,180,210,240,270,300,330,360], "title": "Wind Dir (deg)"}}}},
          {"data": {"name": "d3"}, "mark": {"type": "square", "filled": true, "size": 56, "color": "#6e0b0b", "opacity": 1, "clip": true},
           "encoding": {"x": {"field": "t", "type": "quantitative", "axis": {"values": [0,2,4,6,8,10,12,14,16,18,20,22,24], "title": "Time (hours)"}}, "y": {"field": "v", "type": "quantitative", "axis": {"values": [0,30,60,90,120,150,180,210,240,270,300,330,360], "title": "Wind Dir (deg)"}}}}
        ]},
        {"layer": [
          {"data": {"name": "s3"}, "mark": {"type": "square", "filled": true, "size": 56, "color": "#f4a720", "opacity": 1, "clip": true},
           "encoding": {"x": {"field": "t", "type": "quantitative", "axis": {"values": [0,2,4,6,8,10,12,14,16,18,20,22,24], "title": "Time (hours)"}}, "y": {"field": "v", "type": "quantitative", "scale": {"domain": [-0.2333, 12.2333], "nice": false, "zero": false}, "axis": {"orient": "right", "values": [0,1,2,3,4,5,6,7,8,9,10,11,12], "title": "Wind Speed (m s⁻¹)", "grid": false, "titleAngle": 270, "titleBaseline": "top"}}}}
        ]}
      ],
      "resolve": {"scale": {"y": "independent"}}
    },
    {
      "title": "10/9/2008\u00a0\u00a0\u00a0\u00a0\u00a0\u00a0\u00a0\u00a0\u00a0\u00a0\u00a0\u00a0\u00a0\u00a085.99",
      "width": 229, "height": 218,
      "layer": [
        {"layer": [
          {"data": {"name": "hatch"}, "mark": {"type": "rule", "clip": true, "color": "#a9a9a9", "strokeWidth": 0.9},
           "encoding": {"x": {"field": "x", "type": "quantitative", "scale": {"domain": [0, 24], "nice": false}, "axis": {"values": [0,2,4,6,8,10,12,14,16,18,20,22,24], "title": "Time (hours)"}}, "x2": {"field": "x2"}, "y": {"datum": -10, "type": "quantitative", "scale": {"domain": [-7, 367], "nice": false, "zero": false}, "axis": {"values": [0,30,60,90,120,150,180,210,240,270,300,330,360], "title": "Wind Dir (deg)"}}, "y2": {"datum": 75}}},
          {"data": {"values": [{"v": 75}]}, "mark": {"type": "rule", "color": "#9a9a9a"},
           "encoding": {"y": {"field": "v", "type": "quantitative", "axis": {"values": [0,30,60,90,120,150,180,210,240,270,300,330,360], "title": "Wind Dir (deg)"}}}},
          {"data": {"name": "d4"}, "mark": {"type": "square", "filled": true, "size": 56, "color": "#6e0b0b", "opacity": 1, "clip": true},
           "encoding": {"x": {"field": "t", "type": "quantitative", "axis": {"values": [0,2,4,6,8,10,12,14,16,18,20,22,24], "title": "Time (hours)"}}, "y": {"field": "v", "type": "quantitative", "axis": {"values": [0,30,60,90,120,150,180,210,240,270,300,330,360], "title": "Wind Dir (deg)"}}}},
          {"data": {"name": "c4"}, "mark": {"type": "circle", "size": 44, "color": "#2e6b1c", "opacity": 1, "clip": true},
           "encoding": {"x": {"field": "t", "type": "quantitative", "axis": {"values": [0,2,4,6,8,10,12,14,16,18,20,22,24], "title": "Time (hours)"}}, "y": {"field": "v", "type": "quantitative", "axis": {"values": [0,30,60,90,120,150,180,210,240,270,300,330,360], "title": "Wind Dir (deg)"}}}}
        ]},
        {"layer": [
          {"data": {"name": "s4"}, "mark": {"type": "square", "filled": true, "size": 56, "color": "#f4a720", "opacity": 1, "clip": true},
           "encoding": {"x": {"field": "t", "type": "quantitative", "axis": {"values": [0,2,4,6,8,10,12,14,16,18,20,22,24], "title": "Time (hours)"}}, "y": {"field": "v", "type": "quantitative", "scale": {"domain": [-0.2333, 12.2333], "nice": false, "zero": false}, "axis": {"orient": "right", "values": [0,1,2,3,4,5,6,7,8,9,10,11,12], "title": "Wind Speed (m s⁻¹)", "grid": false, "titleAngle": 270, "titleBaseline": "top"}}}},
          {"data": {"name": "g4"}, "mark": {"type": "circle", "size": 44, "color": "#86c43e", "opacity": 1, "clip": true},
           "encoding": {"x": {"field": "t", "type": "quantitative", "axis": {"values": [0,2,4,6,8,10,12,14,16,18,20,22,24], "title": "Time (hours)"}}, "y": {"field": "v", "type": "quantitative", "axis": {"orient": "right", "values": [0,1,2,3,4,5,6,7,8,9,10,11,12], "title": "Wind Speed (m s⁻¹)", "grid": false, "titleAngle": 270, "titleBaseline": "top"}}}}
        ]}
      ],
      "resolve": {"scale": {"y": "independent"}}
    },
    {
      "title": "10/11/2008\u00a0\u00a0\u00a0\u00a0\u00a0\u00a0\u00a0\u00a0\u00a0\u00a0\u00a0\u00a0\u00a0\u00a0\u00a084.39",
      "width": 229, "height": 218,
      "layer": [
        {"layer": [
          {"data": {"name": "hatch"}, "mark": {"type": "rule", "clip": true, "color": "#a9a9a9", "strokeWidth": 0.9},
           "encoding": {"x": {"field": "x", "type": "quantitative", "scale": {"domain": [0, 24], "nice": false}, "axis": {"values": [0,2,4,6,8,10,12,14,16,18,20,22,24], "title": "Time (hours)"}}, "x2": {"field": "x2"}, "y": {"datum": -10, "type": "quantitative", "scale": {"domain": [-7, 367], "nice": false, "zero": false}, "axis": {"values": [0,30,60,90,120,150,180,210,240,270,300,330,360], "title": "Wind Dir (deg)"}}, "y2": {"datum": 75}}},
          {"data": {"values": [{"v": 75}]}, "mark": {"type": "rule", "color": "#9a9a9a"},
           "encoding": {"y": {"field": "v", "type": "quantitative", "axis": {"values": [0,30,60,90,120,150,180,210,240,270,300,330,360], "title": "Wind Dir (deg)"}}}},
          {"data": {"name": "d5"}, "mark": {"type": "square", "filled": true, "size": 56, "color": "#6e0b0b", "opacity": 1, "clip": true},
           "encoding": {"x": {"field": "t", "type": "quantitative", "axis": {"values": [0,2,4,6,8,10,12,14,16,18,20,22,24], "title": "Time (hours)"}}, "y": {"field": "v", "type": "quantitative", "axis": {"values": [0,30,60,90,120,150,180,210,240,270,300,330,360], "title": "Wind Dir (deg)"}}}}
        ]},
        {"layer": [
          {"data": {"name": "s5"}, "mark": {"type": "square", "filled": true, "size": 56, "color": "#f4a720", "opacity": 1, "clip": true},
           "encoding": {"x": {"field": "t", "type": "quantitative", "axis": {"values": [0,2,4,6,8,10,12,14,16,18,20,22,24], "title": "Time (hours)"}}, "y": {"field": "v", "type": "quantitative", "scale": {"domain": [-0.2333, 12.2333], "nice": false, "zero": false}, "axis": {"orient": "right", "values": [0,1,2,3,4,5,6,7,8,9,10,11,12], "title": "Wind Speed (m s⁻¹)", "grid": false, "titleAngle": 270, "titleBaseline": "top"}}}}
        ]}
      ],
      "resolve": {"scale": {"y": "independent"}}
    },
    {
      "title": "18/11/2008\u00a0\u00a0\u00a0\u00a0\u00a0\u00a0\u00a0\u00a0\u00a0\u00a0\u00a0\u00a0\u00a0171.99",
      "width": 229, "height": 218,
      "layer": [
        {"layer": [
          {"data": {"name": "hatch"}, "mark": {"type": "rule", "clip": true, "color": "#a9a9a9", "strokeWidth": 0.9},
           "encoding": {"x": {"field": "x", "type": "quantitative", "scale": {"domain": [0, 24], "nice": false}, "axis": {"values": [0,2,4,6,8,10,12,14,16,18,20,22,24], "title": "Time (hours)"}}, "x2": {"field": "x2"}, "y": {"datum": -10, "type": "quantitative", "scale": {"domain": [-7, 367], "nice": false, "zero": false}, "axis": {"values": [0,30,60,90,120,150,180,210,240,270,300,330,360], "title": "Wind Dir (deg)"}}, "y2": {"datum": 75}}},
          {"data": {"values": [{"v": 75}]}, "mark": {"type": "rule", "color": "#9a9a9a"},
           "encoding": {"y": {"field": "v", "type": "quantitative", "axis": {"values": [0,30,60,90,120,150,180,210,240,270,300,330,360], "title": "Wind Dir (deg)"}}}},
          {"data": {"name": "d6"}, "mark": {"type": "square", "filled": true, "size": 56, "color": "#6e0b0b", "opacity": 1, "clip": true},
           "encoding": {"x": {"field": "t", "type": "quantitative", "axis": {"values": [0,2,4,6,8,10,12,14,16,18,20,22,24], "title": "Time (hours)"}}, "y": {"field": "v", "type": "quantitative", "axis": {"values": [0,30,60,90,120,150,180,210,240,270,300,330,360], "title": "Wind Dir (deg)"}}}}
        ]},
        {"layer": [
          {"data": {"name": "s6"}, "mark": {"type": "square", "filled": true, "size": 56, "color": "#f4a720", "opacity": 1, "clip": true},
           "encoding": {"x": {"field": "t", "type": "quantitative", "axis": {"values": [0,2,4,6,8,10,12,14,16,18,20,22,24], "title": "Time (hours)"}}, "y": {"field": "v", "type": "quantitative", "scale": {"domain": [-0.2333, 12.2333], "nice": false, "zero": false}, "axis": {"orient": "right", "values": [0,1,2,3,4,5,6,7,8,9,10,11,12], "title": "Wind Speed (m s⁻¹)", "grid": false, "titleAngle": 270, "titleBaseline": "top"}}}}
        ]}
      ],
      "resolve": {"scale": {"y": "independent"}}
    },
    {
      "title": "19/11/2008\u00a0\u00a0\u00a0\u00a0\u00a0\u00a0\u00a0\u00a0\u00a0\u00a0\u00a0\u00a0\u00a0187.30",
      "width": 229, "height": 218,
      "layer": [
        {"layer": [
          {"data": {"name": "hatch"}, "mark": {"type": "rule", "clip": true, "color": "#a9a9a9", "strokeWidth": 0.9},
           "encoding": {"x": {"field": "x", "type": "quantitative", "scale": {"domain": [0, 24], "nice": false}, "axis": {"values": [0,2,4,6,8,10,12,14,16,18,20,22,24], "title": "Time (hours)"}}, "x2": {"field": "x2"}, "y": {"datum": -10, "type": "quantitative", "scale": {"domain": [-7, 367], "nice": false, "zero": false}, "axis": {"values": [0,30,60,90,120,150,180,210,240,270,300,330,360], "title": "Wind Dir (deg)"}}, "y2": {"datum": 75}}},
          {"data": {"values": [{"v": 75}]}, "mark": {"type": "rule", "color": "#9a9a9a"},
           "encoding": {"y": {"field": "v", "type": "quantitative", "axis": {"values": [0,30,60,90,120,150,180,210,240,270,300,330,360], "title": "Wind Dir (deg)"}}}},
          {"data": {"name": "d7"}, "mark": {"type": "square", "filled": true, "size": 56, "color": "#6e0b0b", "opacity": 1, "clip": true},
           "encoding": {"x": {"field": "t", "type": "quantitative", "axis": {"values": [0,2,4,6,8,10,12,14,16,18,20,22,24], "title": "Time (hours)"}}, "y": {"field": "v", "type": "quantitative", "axis": {"values": [0,30,60,90,120,150,180,210,240,270,300,330,360], "title": "Wind Dir (deg)"}}}},
          {"data": {"name": "c7"}, "mark": {"type": "circle", "size": 44, "color": "#2e6b1c", "opacity": 1, "clip": true},
           "encoding": {"x": {"field": "t", "type": "quantitative", "axis": {"values": [0,2,4,6,8,10,12,14,16,18,20,22,24], "title": "Time (hours)"}}, "y": {"field": "v", "type": "quantitative", "axis": {"values": [0,30,60,90,120,150,180,210,240,270,300,330,360], "title": "Wind Dir (deg)"}}}}
        ]},
        {"layer": [
          {"data": {"name": "s7"}, "mark": {"type": "square", "filled": true, "size": 56, "color": "#f4a720", "opacity": 1, "clip": true},
           "encoding": {"x": {"field": "t", "type": "quantitative", "axis": {"values": [0,2,4,6,8,10,12,14,16,18,20,22,24], "title": "Time (hours)"}}, "y": {"field": "v", "type": "quantitative", "scale": {"domain": [-0.2333, 12.2333], "nice": false, "zero": false}, "axis": {"orient": "right", "values": [0,1,2,3,4,5,6,7,8,9,10,11,12], "title": "Wind Speed (m s⁻¹)", "grid": false, "titleAngle": 270, "titleBaseline": "top"}}}},
          {"data": {"name": "g7"}, "mark": {"type": "circle", "size": 44, "color": "#86c43e", "opacity": 1, "clip": true},
           "encoding": {"x": {"field": "t", "type": "quantitative", "axis": {"values": [0,2,4,6,8,10,12,14,16,18,20,22,24], "title": "Time (hours)"}}, "y": {"field": "v", "type": "quantitative", "axis": {"orient": "right", "values": [0,1,2,3,4,5,6,7,8,9,10,11,12], "title": "Wind Speed (m s⁻¹)", "grid": false, "titleAngle": 270, "titleBaseline": "top"}}}}
        ]}
      ],
      "resolve": {"scale": {"y": "independent"}}
    },
    {
      "title": "20/11/2008\u00a0\u00a0\u00a0\u00a0\u00a0\u00a0\u00a0\u00a0\u00a0\u00a0\u00a0\u00a0131.07",
      "width": 229, "height": 218,
      "layer": [
        {"layer": [
          {"data": {"name": "hatch"}, "mark": {"type": "rule", "clip": true, "color": "#a9a9a9", "strokeWidth": 0.9},
           "encoding": {"x": {"field": "x", "type": "quantitative", "scale": {"domain": [0, 24], "nice": false}, "axis": {"values": [0,2,4,6,8,10,12,14,16,18,20,22,24], "title": "Time (hours)"}}, "x2": {"field": "x2"}, "y": {"datum": -10, "type": "quantitative", "scale": {"domain": [-7, 367], "nice": false, "zero": false}, "axis": {"values": [0,30,60,90,120,150,180,210,240,270,300,330,360], "title": "Wind Dir (deg)"}}, "y2": {"datum": 75}}},
          {"data": {"values": [{"v": 75}]}, "mark": {"type": "rule", "color": "#9a9a9a"},
           "encoding": {"y": {"field": "v", "type": "quantitative", "axis": {"values": [0,30,60,90,120,150,180,210,240,270,300,330,360], "title": "Wind Dir (deg)"}}}},
          {"data": {"name": "d8"}, "mark": {"type": "square", "filled": true, "size": 56, "color": "#6e0b0b", "opacity": 1, "clip": true},
           "encoding": {"x": {"field": "t", "type": "quantitative", "axis": {"values": [0,2,4,6,8,10,12,14,16,18,20,22,24], "title": "Time (hours)"}}, "y": {"field": "v", "type": "quantitative", "axis": {"values": [0,30,60,90,120,150,180,210,240,270,300,330,360], "title": "Wind Dir (deg)"}}}},
          {"data": {"name": "c8"}, "mark": {"type": "circle", "size": 44, "color": "#2e6b1c", "opacity": 1, "clip": true},
           "encoding": {"x": {"field": "t", "type": "quantitative", "axis": {"values": [0,2,4,6,8,10,12,14,16,18,20,22,24], "title": "Time (hours)"}}, "y": {"field": "v", "type": "quantitative", "axis": {"values": [0,30,60,90,120,150,180,210,240,270,300,330,360], "title": "Wind Dir (deg)"}}}}
        ]},
        {"layer": [
          {"data": {"name": "s8"}, "mark": {"type": "square", "filled": true, "size": 56, "color": "#f4a720", "opacity": 1, "clip": true},
           "encoding": {"x": {"field": "t", "type": "quantitative", "axis": {"values": [0,2,4,6,8,10,12,14,16,18,20,22,24], "title": "Time (hours)"}}, "y": {"field": "v", "type": "quantitative", "scale": {"domain": [-0.2333, 12.2333], "nice": false, "zero": false}, "axis": {"orient": "right", "values": [0,1,2,3,4,5,6,7,8,9,10,11,12], "title": "Wind Speed (m s⁻¹)", "grid": false, "titleAngle": 270, "titleBaseline": "top"}}}},
          {"data": {"name": "g8"}, "mark": {"type": "circle", "size": 44, "color": "#86c43e", "opacity": 1, "clip": true},
           "encoding": {"x": {"field": "t", "type": "quantitative", "axis": {"values": [0,2,4,6,8,10,12,14,16,18,20,22,24], "title": "Time (hours)"}}, "y": {"field": "v", "type": "quantitative", "axis": {"orient": "right", "values": [0,1,2,3,4,5,6,7,8,9,10,11,12], "title": "Wind Speed (m s⁻¹)", "grid": false, "titleAngle": 270, "titleBaseline": "top"}}}}
        ]}
      ],
      "resolve": {"scale": {"y": "independent"}}
    },
    {
      "title": "21/11/2008\u00a0\u00a0\u00a0\u00a0\u00a0\u00a0\u00a0\u00a0\u00a0\u00a0\u00a0\u00a091.84",
      "width": 229, "height": 218,
      "layer": [
        {"layer": [
          {"data": {"name": "hatch"}, "mark": {"type": "rule", "clip": true, "color": "#a9a9a9", "strokeWidth": 0.9},
           "encoding": {"x": {"field": "x", "type": "quantitative", "scale": {"domain": [0, 24], "nice": false}, "axis": {"values": [0,2,4,6,8,10,12,14,16,18,20,22,24], "title": "Time (hours)"}}, "x2": {"field": "x2"}, "y": {"datum": -10, "type": "quantitative", "scale": {"domain": [-7, 367], "nice": false, "zero": false}, "axis": {"values": [0,30,60,90,120,150,180,210,240,270,300,330,360], "title": "Wind Dir (deg)"}}, "y2": {"datum": 75}}},
          {"data": {"values": [{"v": 75}]}, "mark": {"type": "rule", "color": "#9a9a9a"},
           "encoding": {"y": {"field": "v", "type": "quantitative", "axis": {"values": [0,30,60,90,120,150,180,210,240,270,300,330,360], "title": "Wind Dir (deg)"}}}},
          {"data": {"name": "d9"}, "mark": {"type": "square", "filled": true, "size": 56, "color": "#6e0b0b", "opacity": 1, "clip": true},
           "encoding": {"x": {"field": "t", "type": "quantitative", "axis": {"values": [0,2,4,6,8,10,12,14,16,18,20,22,24], "title": "Time (hours)"}}, "y": {"field": "v", "type": "quantitative", "axis": {"values": [0,30,60,90,120,150,180,210,240,270,300,330,360], "title": "Wind Dir (deg)"}}}},
          {"data": {"name": "c9"}, "mark": {"type": "circle", "size": 44, "color": "#2e6b1c", "opacity": 1, "clip": true},
           "encoding": {"x": {"field": "t", "type": "quantitative", "axis": {"values": [0,2,4,6,8,10,12,14,16,18,20,22,24], "title": "Time (hours)"}}, "y": {"field": "v", "type": "quantitative", "axis": {"values": [0,30,60,90,120,150,180,210,240,270,300,330,360], "title": "Wind Dir (deg)"}}}}
        ]},
        {"layer": [
          {"data": {"name": "s9"}, "mark": {"type": "square", "filled": true, "size": 56, "color": "#f4a720", "opacity": 1, "clip": true},
           "encoding": {"x": {"field": "t", "type": "quantitative", "axis": {"values": [0,2,4,6,8,10,12,14,16,18,20,22,24], "title": "Time (hours)"}}, "y": {"field": "v", "type": "quantitative", "scale": {"domain": [-0.2333, 12.2333], "nice": false, "zero": false}, "axis": {"orient": "right", "values": [0,1,2,3,4,5,6,7,8,9,10,11,12], "title": "Wind Speed (m s⁻¹)", "grid": false, "titleAngle": 270, "titleBaseline": "top"}}}},
          {"data": {"name": "g9"}, "mark": {"type": "circle", "size": 44, "color": "#86c43e", "opacity": 1, "clip": true},
           "encoding": {"x": {"field": "t", "type": "quantitative", "axis": {"values": [0,2,4,6,8,10,12,14,16,18,20,22,24], "title": "Time (hours)"}}, "y": {"field": "v", "type": "quantitative", "axis": {"orient": "right", "values": [0,1,2,3,4,5,6,7,8,9,10,11,12], "title": "Wind Speed (m s⁻¹)", "grid": false, "titleAngle": 270, "titleBaseline": "top"}}}}
        ]}
      ],
      "resolve": {"scale": {"y": "independent"}}
    }
  ],
  "config": {
    "font": "Liberation Sans",
    "view": {"stroke": "#9a9a9a", "strokeWidth": 1},
    "axis": {
      "domain": false,
      "ticks": true,
      "tickSize": 3,
      "tickColor": "#777777",
      "grid": true,
      "gridColor": "#8c8c8c",
      "gridDash": [3, 3],
      "gridWidth": 0.8,
      "labelFont": "Liberation Sans",
      "titleFont": "Liberation Sans",
      "labelFontSize": 13.5,
      "titleFontSize": 13.5,
      "titleFontWeight": "normal",
      "labelColor": "#111111",
      "titleColor": "#111111",
      "labelPadding": 2,
      "titlePadding": 4,
      "labelFlush": false,
      "labelOverlap": false
    },
    "title": {"font": "Liberation Sans", "fontSize": 13.5, "fontWeight": "normal", "color": "#111111", "offset": 3}
  }
}
